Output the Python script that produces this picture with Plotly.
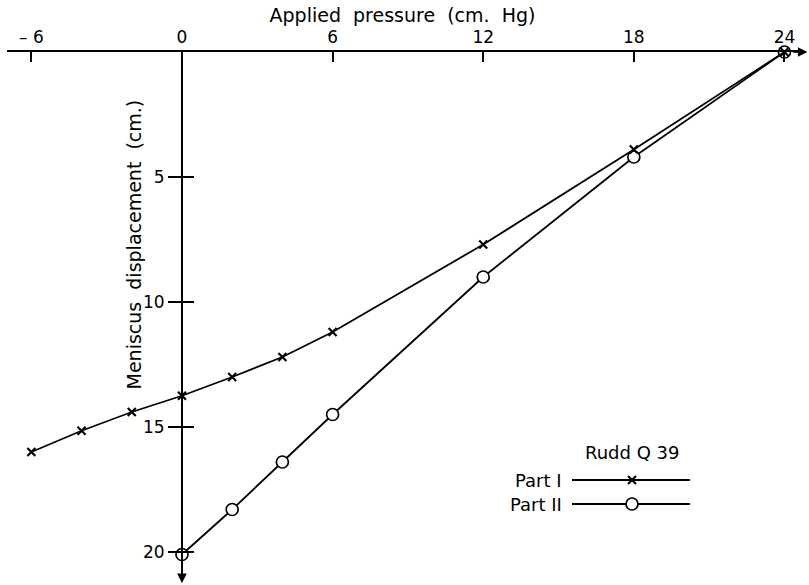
import plotly.graph_objects as go

# ---- data ----
part1_x = [-6, -4, -2, 0, 2, 4, 6, 12, 18, 24]
part1_y = [16.0, 15.15, 14.4, 13.75, 13.0, 12.2, 11.2, 7.7, 3.9, 0.0]

part2_x = [0, 2, 4, 6, 12, 18, 24]
part2_y = [20.1, 18.3, 16.4, 14.5, 9.0, 4.2, 0.0]

x_tick_vals = [-6, 0, 6, 12, 18, 24]
x_tick_text = ["\u2013 6", "0", "6", "12", "18", "24"]
y_tick_vals = [5, 10, 15, 20]
y_tick_text = ["5", "10", "15", "20"]

x_title = "Applied\u00a0 pressure\u00a0 (cm.\u00a0 Hg)"
y_title = "Meniscus\u00a0 displacement\u00a0 (cm.)"
legend_title = "Rudd Q 39"
series_names = ["Part I", "Part II"]

FONT = "DejaVu Sans"
W, H = 809, 585
ML, MR, MT, MB = 7, 11, 52, 5
X_RANGE = [-6.97, 24.54]
Y_RANGE = [21.12, 0]
y_axis_pos = (0 - X_RANGE[0]) / (X_RANGE[1] - X_RANGE[0])

fig = go.Figure()

fig.add_trace(go.Scatter(
    x=part2_x, y=part2_y, mode="lines+markers", name=series_names[1],
    line=dict(color="black", width=1.8),
    marker=dict(symbol="circle", size=12, color="white",
                line=dict(color="black", width=1.7)),
    cliponaxis=False, showlegend=False))

fig.add_trace(go.Scatter(
    x=part1_x, y=part1_y, mode="lines+markers", name=series_names[0],
    line=dict(color="black", width=1.8),
    marker=dict(symbol="x-thin", size=8, color="black",
                line=dict(color="black", width=2.2)),
    cliponaxis=False, showlegend=False))

fig.update_layout(
    width=W, height=H,
    margin=dict(l=ML, r=MR, t=MT, b=MB),
    paper_bgcolor="white", plot_bgcolor="white",
    font=dict(family=FONT, size=17, color="black"),
    showlegend=False,
    xaxis=dict(
        range=X_RANGE, side="top", showgrid=False, zeroline=False,
        showline=True, linecolor="black", linewidth=1.8,
        tickmode="array", tickvals=x_tick_vals, ticktext=x_tick_text,
        ticks="inside", ticklen=10, tickwidth=1.5, tickcolor="black",
        tickfont=dict(size=17),
        title=dict(text=x_title, font=dict(size=19), standoff=0),
    ),
    yaxis=dict(
        range=Y_RANGE, anchor="free", position=y_axis_pos,
        showgrid=False, zeroline=False,
        showline=True, linecolor="black", linewidth=1.8,
        tickmode="array", tickvals=y_tick_vals, ticktext=y_tick_text,
        ticks="outside", ticklen=13, tickwidth=1.5, tickcolor="black",
        tickfont=dict(size=17), ticklabelstandoff=0,
    ),
    yaxis2=dict(
        range=Y_RANGE, anchor="free", position=y_axis_pos, overlaying="y",
        showgrid=False, zeroline=False, showline=False,
        tickmode="array", tickvals=y_tick_vals,
        ticks="inside", ticklen=11, tickwidth=1.5, tickcolor="black",
        showticklabels=False,
    ),
)
# invisible trace to activate yaxis2
fig.add_trace(go.Scatter(x=[None], y=[None], yaxis="y2", showlegend=False,
                         hoverinfo="skip"))

# arrowheads on axes
fig.add_annotation(xref="paper", yref="paper", x=1.012, y=1, ax=-16, ay=0,
                   text="", showarrow=True,
                   arrowhead=2, arrowsize=1.2, arrowwidth=1.6, arrowcolor="black")
fig.add_annotation(xref="paper", yref="paper", x=y_axis_pos, y=-0.006, ax=0, ay=-16,
                   text="", showarrow=True,
                   arrowhead=2, arrowsize=1.2, arrowwidth=1.6, arrowcolor="black")

# y-axis title
fig.add_annotation(xref="x", yref="y", x=0, y=7.7, xshift=-48, text=y_title,
                   textangle=-90, showarrow=False, font=dict(size=19),
                   xanchor="center", yanchor="middle")

# custom legend (text left of symbol)
def px2paper(px, py):
    return (px - ML) / (W - ML - MR), (H - MB - py) / (H - MT - MB)

lx, ly = px2paper(632, 452)
fig.add_annotation(xref="paper", yref="paper", x=lx, y=ly, text=legend_title,
                   xanchor="center", yanchor="middle",
                   showarrow=False, font=dict(size=18))

for i, (name, py) in enumerate(zip(series_names, [480, 504])):
    tx, ty = px2paper(564, py)
    fig.add_annotation(xref="paper", yref="paper", x=tx, y=ty, text=name,
                       xanchor="right", yanchor="middle",
                       showarrow=False, font=dict(size=18))
    x0, yy = px2paper(572, py)
    x1, _ = px2paper(690, py)
    fig.add_shape(type="line", xref="paper", yref="paper", x0=x0, x1=x1,
                  y0=yy, y1=yy, line=dict(color="black", width=1.8))
    mx, _ = px2paper(632, py)
    if i == 0:
        for d in (1, -1):
            fig.add_shape(type="line", xref="paper", yref="paper",
                          xsizemode="pixel", ysizemode="pixel",
                          xanchor=mx, yanchor=yy,
                          x0=-4, x1=4, y0=-4 * d, y1=4 * d,
                          line=dict(color="black", width=2.2))
    else:
        fig.add_shape(type="circle", xref="paper", yref="paper",
                      xsizemode="pixel", ysizemode="pixel",
                      xanchor=mx, yanchor=yy, x0=-6, x1=6, y0=-6, y1=6,
                      fillcolor="white", line=dict(color="black", width=1.7))

fig.write_html("out.html")
